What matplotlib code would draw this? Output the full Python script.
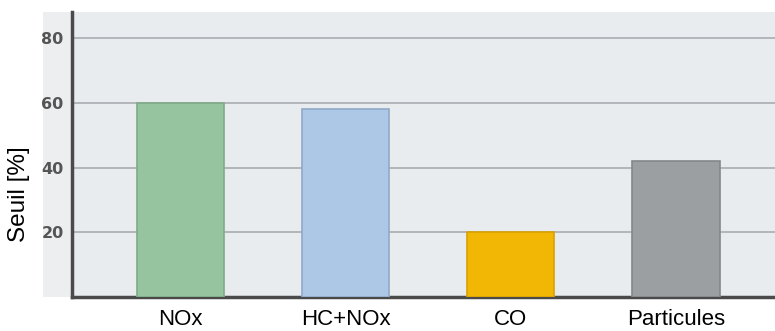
import matplotlib
matplotlib.use("Agg")
import matplotlib.pyplot as plt
import matplotlib.transforms as mtransforms
from matplotlib.patches import Rectangle

# seuils par polluant
polluants = ["NOx", "HC+NOx", "CO", "Particules"]
seuils = [60, 58, 20, 42]
couleurs = ["#95c49e", "#adc7e7", "#f2b705", "#9c9fa2"]
bords = ["#7faa88", "#90a9c6", "#d9a200", "#85888b"]
graduations = [20, 40, 60, 80]
# petit decalage horizontal des etiquettes (en pixels)
decalages = [1.5, -6, -2.5, 11.5]

fig = plt.figure(figsize=(7.75, 3.31), dpi=100)

ax_gauche, ax_bas, ax_larg, ax_haut = 0.093, 0.103, 0.907, 0.861

# fond gris qui deborde un peu a gauche de l'axe
fig.patches.append(Rectangle((43 / 775, ax_bas), ax_gauche - 43 / 775, ax_haut,
                             transform=fig.transFigure, facecolor="#eceef0",
                             edgecolor="none", zorder=-1))

ax = fig.add_axes([ax_gauche, ax_bas, ax_larg, ax_haut])
ax.set_facecolor("#e9ecef")

x = range(len(polluants))
ax.bar(x, seuils, width=0.53, color=couleurs, edgecolor=bords, linewidth=1.2, zorder=3)

ax.set_xlim(-0.655, 3.6)
ax.set_ylim(0, 88.2)
ax.set_yticks(graduations)
ax.set_yticklabels([str(g) for g in graduations], fontsize=11.5, fontweight="bold",
                   color="#555555", family="DejaVu Sans Condensed")
ax.set_xticks(list(x))
ax.set_xticklabels(polluants, fontsize=16, family="Liberation Sans")
for lab, d in zip(ax.get_xticklabels(), decalages):
    lab.set_transform(lab.get_transform() +
                      mtransforms.ScaledTranslation(d / 100, 0, fig.dpi_scale_trans))
ax.tick_params(axis="both", length=0)
ax.tick_params(axis="y", pad=6)
ax.tick_params(axis="x", pad=9)
ax.grid(axis="y", color="#a9adb1", linewidth=1.2, zorder=1)

ax.set_ylabel("Seuil [%]", fontsize=17.5, family="Liberation Sans")
ax.yaxis.set_label_coords(-0.06, 0.361)

for side in ["top", "right"]:
    ax.spines[side].set_visible(False)
for side in ["left", "bottom"]:
    ax.spines[side].set_color("#4a4a4a")
    ax.spines[side].set_linewidth(2.5)

fig.savefig("out.png", dpi=100, facecolor="white")
